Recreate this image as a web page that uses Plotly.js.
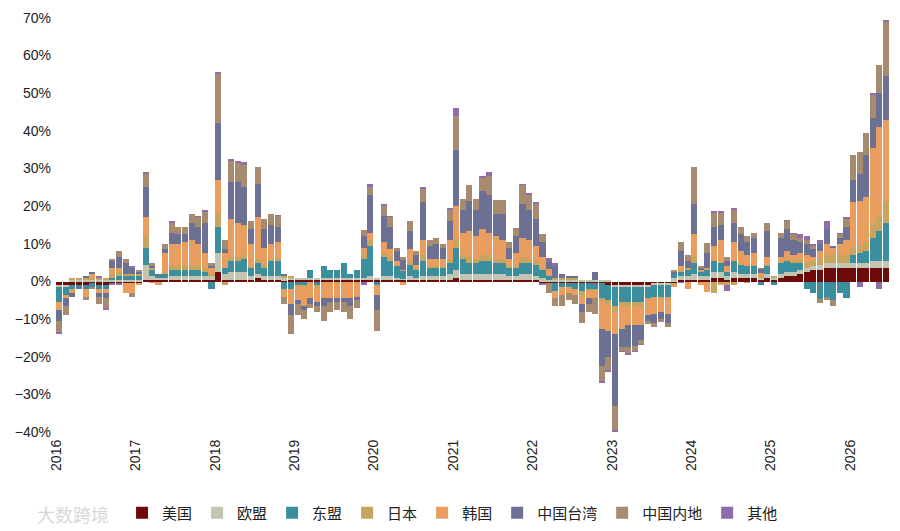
<!DOCTYPE html>
<html>
<head>
<meta charset="utf-8">
<script src="https://cdn.plot.ly/plotly-3.0.1.min.js"></script>
<style>body{margin:0;background:#fff}#chart{width:900px;height:531px}</style>
</head>
<body>
<div id="chart"></div>
<script>
// monthly contributions, Jan 2016 .. Jun 2026 (percentage points)
var names = ['美国', '欧盟', '东盟', '日本', '韩国', '中国台湾', '中国内地', '其他'];
var colors = ['#6e0a0a', '#c3c4b2', '#3b8e9e', '#c7a55e', '#e99d5f', '#6c7193', '#a68b70', '#8f6daa'];

var us = [
  -1,-1,-1,-1,-1,-0.5,-1,-1,-0.5,-0.5,-0.5,-0.5,
  -0.5,0.5,0.5,0.5,0.5,0.5,0.5,0.5,0.5,0.5,0.5,0.5,
  2.5,0.5,0.5,0.5,0.5,0.5,1,0.5,0.5,0.5,0.2,0.3,
  0.3,0.3,0.3,0.3,0.3,0.3,0.3,0.3,0.3,0.3,0.3,0.5,
  0.3,0.5,0.5,0.5,0.3,0.5,0.5,0.5,0.5,0.5,0.5,0.5,
  1,0.5,0.5,0.5,0.5,0.5,0.5,0.5,0.5,0.5,0.5,0.5,
  0.5,-0.5,-0.5,-0.5,-0.5,-0.5,-0.5,-0.5,-0.5,-0.5,-0.5,-1,
  -1,-1,-1,-1,-1,-1,-0.5,-0.5,-0.5,-0.5,0.5,0.5,
  0.5,0.5,0.5,1,1,0.5,1,1,1,1,0.5,1,
  0.5,1,1.5,1.5,2,2.5,3,3,3.5,3.5,3.5,3.5,
  3.5,3.5,3.5,3.5,3.5,3.5
];
var eu = [
  -0.5,-0.5,0.5,0.5,0.5,0.5,0.5,0.5,0.5,0.5,0.5,0.5,
  0.5,4,1,0.5,0.5,1,1,1,1,1,1,1,
  5,1.5,2,2,2,1,1,1,1,1,0.8,0.7,
  0.7,0.7,0.7,0.7,0.7,0.7,0.7,0.7,0.7,0.7,0.7,1,
  0.7,1,1,0.5,0.5,1,0.5,1,1,1,1,1.5,
  2,1.5,1.5,1.5,1.5,1.5,1.5,1.5,1,1,1.5,1.5,
  1,1,0.5,0.5,0.5,0.5,0.5,0.5,0.5,0.5,0.3,0.3,
  -0.5,-0.5,-0.5,-0.5,-0.5,-0.5,-0.5,-0.5,-0.5,1,1,1,
  1.5,1,1,1.5,1.5,1,1.5,1,1,1,0.5,1,
  0.5,1,1,1,1,1,1,1.5,1.5,1.5,1.5,1.5,
  1.5,1.5,1.5,2,2,2
];
var asean = [
  -4,-2,-1,-0.5,-1,-1,-1,-1,0.5,1,1,1,
  1,4.5,1.5,0.5,1,1.5,1.5,1.5,1.5,1.5,1,-2,
  7,1.5,3,3,3.5,2,3,2,4,4,-2,-2,
  -1,-1,2,-1,3,2,2,4,1,2,5,8,
  -1,5,4,3,2,3,2,4,2,2,2,3,
  6,4,3,3,3.5,3.5,3,3,2,2,3,3,
  3,2,1,-2,-1,-1,-1.5,-2,-1.5,-1.5,-4,-4,
  -5,-4,-4,-4,-4,-3,-3,-3,-3,1,1,1.5,
  3,1,1.5,3,2.5,1,3,2.5,2,2,-1,2,
  -1,3,3,2.5,2,-2,-3,-4.6,-4,-5,-3,-4.4,
  2,2.5,3,6,8,10
];
var japan = [
  0,0,0.5,0.5,0.5,0.5,0.5,0.5,1,1,0.5,0.5,
  0.5,3,0.5,0,0.5,1,1,1,1,1,1,0.5,
  3.5,-1,1,1,1,0.5,1,0.5,0.5,0.5,0.5,0.5,
  0,-0.5,-0.5,-0.5,-0.5,-0.5,-0.5,-0.5,-0.5,-0.5,1,1.5,
  0,1,1,0.5,0.3,1,0.5,1.5,0.5,0.5,0.5,1,
  2,1,1.5,1,1.5,1.5,1,1,0.5,1,1.5,1,
  1,0.5,0.3,0.5,0.4,0.5,0.5,-1,-0.5,-0.5,-1,-1,
  -1.5,-1,-1,-1,-1,-0.5,-0.5,-0.5,-0.5,-0.5,0.5,0.5,
  1.5,0.5,0.5,-3,-1,-1,-1,0.5,-0.5,0.5,0.2,0.5,
  0.5,0.5,0.5,0.5,1,1.5,1.5,1.5,2,2,2,2,
  2,2,2.5,4,4,5.5
];
var korea = [
  -2,-1,-1,0,-2,1,-1,-1,1.5,1,-2.5,-2.5,
  -0.5,5,-0.5,-1,5,6,6,6.5,7,6,4,1.5,
  9,4,10,9,8,6,11,5,4,4.5,-2,-4,
  -4,-5,-4,-4,-4,-4,-4,-4,-4,-3.5,2,2,
  -2.5,3,2,1,-1,3,1,4,2,2,2,5,
  9,6,7,6,7,6,6,5,2,3,5,5,
  4,3,1.5,-2,-2,-1.5,-1.5,-2.5,-2,-2,-7,-7,
  -6,-6,-5,-5,-5,-4,-4,-3.5,-4,-0.5,1,-2,
  6,-1,-2.8,4,6,1.5,5,3,3,3,1,2,
  0,1,2,1.5,1.5,2,1,2,3,2,3,4,
  12,12,12,20,23.5,22
];
var taiwan = [
  -3,-2,-1,-0.5,0.5,0.5,-1,-1.5,2,3,3,1.5,
  0.5,8,0.5,0.5,1,3,2.5,2,4.5,4.5,8,0.5,
  15,1,10,11,10,4,9,5,5,4,0.5,-3,
  -1,-1,-1.5,-1,-2,-1,-1,-1,-2,-1,3,10,
  -4,7,6,2.5,2.5,5,2.5,10,3.5,4,3,5,
  15,6,8,7,10,10,6,7,3,4.5,9,8,
  7,4,2,3,1,0.5,0.5,-2,-1.5,1.9,-10,-7,
  -19,-5,-6,-5.5,-4,-1.5,-2.5,-2,-2.5,0.5,4,2,
  8,0.5,4,5,4,1.5,5,4.5,3.5,4,1,7,
  0,5,6,4,3,3,2,2,4,0.5,1.5,3.5,
  6,7,11,8,9,11.5
];
var mainland = [
  -3,-2.5,0,0,-1,-0.5,-2,-2.5,0.5,1.5,1,-1,
  0.5,3.5,1,0,1.5,2.5,2,2,2.5,2.5,3,1,
  13,2.5,5.5,5,6,2,4.5,2.6,3,3,-2,-5,
  -3,-2.5,-1,-1.5,-4,-2.5,-2,-2.5,-3.5,-2,1.7,2,
  -5.5,2.5,2.5,1,1,2.5,1,3.5,1.5,1.5,1,3,
  9,3,4,3,3.5,5,3.7,3.7,1.6,2.3,5,4,
  4,2,-2.5,-2.1,-3.1,-2,-2.5,-3,-2,-4,-4,-3.5,
  -6.5,-1,-1.5,-1.5,-1,-0.7,-1,-0.7,-1,0.5,2.6,1.5,
  10,0.5,2.8,3.6,3.1,1.1,3.6,2.1,1.5,1.5,0.5,2.1,
  0,1.5,2,1.5,1,1,1,-1,-1,-1.5,1,2,
  6.5,6,6,6,7.5,14.5
];
var other = [
  -0.5,0,0,0,0,0,0.5,-0.5,-0.5,-0.5,0,0.5,
  0,0.5,0,0,0,0.5,0,0,0,0.5,0.5,0,
  0.7,0,0.6,0.5,0.6,0,0,0,0,0.2,0,0,
  0,0,0,0,0,0,0,0,0,0,-1,1,
  0,0.7,0.5,0,0,0,0,0.5,0,0,0,0.6,
  2,0,0.2,0,0.5,1,0,0,0,0,0.5,0.5,
  0.5,-0.5,1,1,0,0,0,0,0,0,-0.3,-0.5,
  -0.5,-0.1,-0.4,-0.1,-0.3,-0.2,0,0,0,0,-0.5,0,
  0,0,0,0.5,0.5,-1.5,0.5,0,0,0,0,0,
  0,0,0.4,0.5,1,1,0.5,1,2,0,0.5,0.5,
  0.2,-1.5,0,0.5,-2,0.5
];
var series = [us, eu, asean, japan, korea, taiwan, mainland, other];

// month labels, mid-month so that a year tick falls on January's left edge
var months = [];
for (var y = 2016; y <= 2026; y++) {
    for (var m = 1; m <= 12; m++) {
        if (months.length < us.length)
            months.push(y + '-' + (m < 10 ? '0' + m : m) + '-15');
    }
}

var traces = series.map(function(vals, i) {
    return {
        type: 'bar',
        name: names[i],
        x: months,
        y: vals,
        marker: { color: colors[i], line: { width: 0 } },
        hovertemplate: '%{x|%Y-%m} ' + names[i] + ': %{y}%<extra></extra>'
    };
});

var layout = {
    width: 900,
    height: 531,
    margin: { l: 52, r: 10, t: 14, b: 95 },
    barmode: 'relative',
    bargap: 0,
    paper_bgcolor: '#fff',
    plot_bgcolor: '#fff',
    font: { family: '"Liberation Sans", "Noto Sans CJK SC", sans-serif', color: '#222', size: 14 },
    xaxis: {
        type: 'date',
        range: ['2015-12-12', '2026-07-03'],
        tickformat: '%Y',
        dtick: 'M12',
        tick0: '2016-01-01',
        tickangle: -90,
        showgrid: false,
        showline: false,
        ticks: '',
        tickfont: { size: 14 }
    },
    yaxis: {
        range: [-41, 71],
        dtick: 10,
        ticksuffix: '%',
        showgrid: false,
        zeroline: false,
        showline: false,
        ticks: '',
        tickfont: { size: 14 }
    },
    legend: {
        orientation: 'h',
        x: 0.478,
        xanchor: 'center',
        yref: 'container',
        y: 0.034,
        yanchor: 'middle',
        traceorder: 'normal',
        font: { family: '"Noto Sans CJK SC", sans-serif', size: 15, color: '#222' },
        itemwidth: 30
    },
    annotations: [{
        text: '大数跨境',
        xref: 'paper', yref: 'paper',
        x: -0.02, y: -0.185, xanchor: 'left', yanchor: 'middle',
        showarrow: false,
        font: { family: '"Noto Sans CJK SC", sans-serif', size: 18, color: '#d8d8d8' }
    }]
};

Plotly.newPlot('chart', traces, layout, { displayModeBar: false, staticPlot: true });
</script>
</body>
</html>
